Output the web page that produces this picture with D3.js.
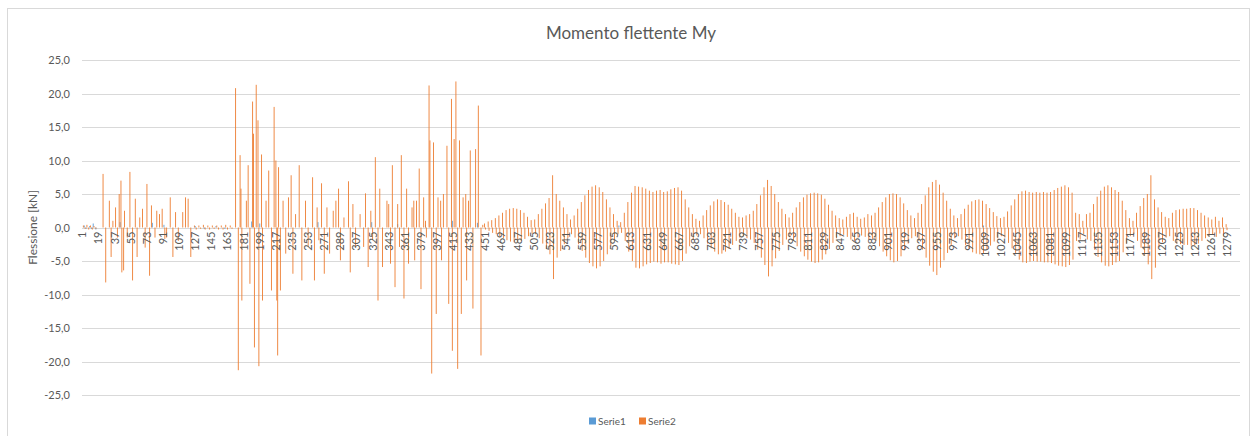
<!DOCTYPE html>
<html>
<head>
<meta charset="utf-8">
<script src="https://cdn.jsdelivr.net/npm/d3@7"></script>
<style>
  body { margin: 0; background: #fff; }
  svg { display: block; font-family: Lato, "Open Sans", sans-serif; }
</style>
</head>
<body>
<div id="chart"></div>
<script>
// categories 1..1293 (Excel row numbers)
const nCategories = 1293;
const categories = d3.range(1, nCategories + 1);

const tickLabels = [1, 19, 37, 55, 73, 91, 109, 127, 145, 163, 181, 199, 217, 235, 253, 271, 289, 307,
  325, 343, 361, 379, 397, 415, 433, 451, 469, 487, 505, 523, 541, 559, 577, 595, 613, 631, 649, 667,
  685, 703, 721, 739, 757, 775, 793, 811, 829, 847, 865, 883, 901, 919, 937, 955, 973, 991, 1009, 1027,
  1045, 1063, 1081, 1099, 1117, 1135, 1153, 1171, 1189, 1207, 1225, 1243, 1261, 1279];

const yTicks = [-25, -20, -15, -10, -5, 0, 5, 10, 15, 20, 25];

// Serie2, first part: [category, value]
const serie2Spikes = [
  [2, 0.3], [4, -0.2], [6, 0.4], [8, -0.3], [10, 0.3], [12, -0.3], [14, 0.2], [16, -0.2],
  [24, 8.0], [27, -8.2], [31, 4.0], [33, -4.4], [35, 1.0], [38, 3.0], [40, -1.5], [42, 5.0],
  [44, 7.0], [45, -6.7], [47, -6.4], [48, 2.5], [51, -1.5], [54, 8.3], [57, -7.9], [60, 4.3],
  [62, -4.4], [65, 1.5], [68, 2.8], [71, -3.0], [73, 6.5], [76, -7.2], [78, 3.3], [82, -1.5],
  [84, 2.5], [87, 2.0], [90, 2.8], [93, -1.7], [95, -1.5], [99, 4.5], [102, -4.4], [105, 2.3],
  [108, -2.0], [113, 2.3], [116, 4.5], [119, 4.3], [122, -4.4],
  [126, 0.3], [128, -0.3], [131, 0.3], [133, -0.2], [136, 0.4], [138, -0.3], [141, 0.3], [143, -0.3],
  [146, 0.3], [148, -0.2], [151, 0.3], [153, -0.3], [156, 0.3], [158, -0.3], [161, 0.4], [163, -0.3],
  [166, 0.3], [168, -0.2],
  [172, 20.8], [175, -21.3], [177, 10.8], [178, 5.8], [179, -10.9], [184, 4.0], [186, 9.3], [188, -8.4],
  [191, 18.8], [192, 14.0], [193, -17.9], [195, 21.3], [197, 16.0], [198, -20.7], [201, 10.9], [202, -10.9],
  [206, 4.0], [209, 8.5], [212, -9.4], [215, 18.0], [217, 10.0], [218, -10.9], [219, -19.1], [220, 9.0],
  [222, -9.4], [225, 4.0], [228, -3.9], [231, 4.5], [234, 7.8], [236, -6.9], [239, 2.0], [243, 9.3],
  [246, -7.9], [250, 4.0], [253, -2.9], [258, 7.5], [260, -7.9], [263, 3.0], [265, -1.9], [268, 6.6],
  [271, -6.9], [274, 3.0], [277, -3.9], [281, 2.5], [284, 4.0], [287, 5.8], [289, -4.9], [293, 1.5],
  [298, 6.9], [300, -6.7], [303, 3.5], [306, -2.9], [311, 2.0], [315, -2.9], [317, 5.1], [320, -5.9],
  [323, 2.5], [325, -1.9], [328, 10.5], [331, -10.9], [333, 5.8], [336, -5.9], [341, 4.0], [343, 3.5],
  [345, -5.4], [347, 9.3], [350, -8.9], [353, 3.5], [355, -2.9], [357, 10.8], [360, -10.6], [363, 5.8],
  [365, -5.4], [369, 3.0], [371, 4.0], [372, -4.9], [374, 4.0], [377, 8.8], [379, -9.2], [382, 4.5],
  [384, 1.0], [385, -1.5], [388, 21.2], [389, 13.0], [391, -21.8], [393, 12.7], [396, -12.9], [398, 4.5],
  [401, 4.0], [402, -4.9], [404, 5.0], [408, 12.2], [410, -11.4], [413, 19.2], [414, -18.4], [416, 13.2],
  [418, 21.8], [420, -21.1], [422, 13.0], [424, -12.9], [426, 4.5], [429, 5.0], [430, -7.9], [432, 4.0],
  [434, 11.5], [437, -12.1], [440, 11.7], [443, 18.2], [446, -19.1], [448, 0.4]
];

// Serie2, oscillating part: one positive and one negative bar every 4 categories from category 450
const serie2WaveStart = 450;
const serie2WaveTop = [
  0.6, 0.9, 1.1, 1.4, 1.8, 2.2, 2.6, 2.8, 2.9, 2.8, 2.6, 2.2, 1.6, 1.1, 1.2, 2.0, 2.8, 3.6, 4.4, 7.8,
  5.0, 4.0, 3.0, 2.0, 1.2, 1.8, 2.8, 3.8, 4.8, 5.6, 6.1, 6.3, 6.0, 5.3, 4.2, 3.0, 2.0, 1.0, 0.8, 2.2,
  3.8, 5.2, 6.2, 6.1, 6.0, 5.8, 5.5, 5.3, 5.5, 5.6, 5.3, 5.4, 5.7, 5.9, 6.0, 5.5, 4.2, 3.0, 2.0, 1.3,
  1.0, 1.8, 2.6, 3.3, 3.9, 4.2, 4.1, 3.8, 3.4, 2.8, 2.2, 1.6, 1.5, 1.8, 2.0, 2.5, 3.5, 4.8, 6.0, 7.1,
  6.2, 5.0, 3.8, 2.8, 2.0, 1.5, 2.2, 3.0, 3.8, 4.5, 4.9, 5.1, 5.2, 5.1, 4.9, 4.3, 3.4, 2.5, 1.8, 1.4,
  1.2, 1.6, 2.0, 2.2, 1.6, 1.3, 1.5, 2.0, 1.8, 2.2, 3.0, 3.8, 4.5, 5.0, 5.1, 5.0, 4.5, 3.6, 2.6, 1.8,
  1.4, 2.2, 3.5, 4.8, 6.0, 6.8, 7.1, 6.4, 5.2, 4.0, 2.8, 1.8, 1.4, 2.0, 2.8, 3.4, 3.9, 4.1, 4.2, 4.0,
  3.5, 2.9, 2.3, 1.7, 1.4, 1.6, 2.4, 3.3, 4.2, 5.0, 5.4, 5.5, 5.3, 5.2, 5.3, 5.2, 5.3, 5.2, 5.3, 5.6,
  5.9, 6.1, 6.3, 6.0, 5.2, 2.2, 2.0, 1.0, 2.0, 2.2, 3.5, 4.6, 5.5, 6.1, 6.3, 6.0, 5.6, 5.3, 4.0, 2.6,
  1.4, 1.0, 2.2, 3.2, 4.4, 5.0, 7.8, 4.2, 3.0, 2.3, 1.6, 1.4, 2.2, 2.6, 2.7, 2.8, 2.8, 2.9, 2.9, 2.6,
  2.2, 1.8, 1.5, 1.2, 1.6, 1.0, 1.5, 0.5
];
const serie2WaveBottom = [
  -0.3, -0.5, -0.8, -1.0, -1.3, -1.6, -1.9, -2.1, -2.2, -2.2, -2.0, -1.7, -1.3, -0.9, -1.0, -1.6, -2.4, -3.2, -4.0, -7.7,
  -4.5, -3.5, -2.5, -1.6, -1.0, -1.5, -2.5, -3.5, -4.5, -5.3, -5.8, -6.1, -5.8, -5.0, -4.0, -2.8, -1.8, -1.0, -0.8, -2.0,
  -3.6, -5.0, -6.0, -6.1, -5.8, -5.5, -5.3, -5.1, -5.2, -5.4, -5.2, -5.2, -5.4, -5.5, -5.6, -5.0, -3.9, -2.8, -1.8, -1.2,
  -1.0, -1.6, -2.4, -3.1, -3.6, -4.0, -3.9, -3.6, -3.2, -2.6, -2.0, -1.5, -1.3, -1.6, -1.8, -2.3, -3.3, -4.5, -5.6, -7.3,
  -5.8, -4.6, -3.5, -2.6, -1.8, -1.4, -2.0, -2.8, -3.6, -4.3, -4.8, -5.1, -5.3, -5.2, -4.8, -4.0, -3.2, -2.3, -1.6, -1.3,
  -1.1, -1.4, -1.8, -2.0, -1.5, -1.2, -1.4, -1.8, -1.7, -2.0, -2.8, -3.6, -4.3, -4.9, -5.2, -5.0, -4.3, -3.4, -2.4, -1.6,
  -1.3, -2.0, -3.3, -4.5, -5.7, -6.6, -7.1, -6.0, -4.9, -3.8, -2.6, -1.6, -1.3, -1.8, -2.6, -3.2, -3.7, -3.9, -4.0, -3.8,
  -3.3, -2.7, -2.1, -1.6, -1.3, -1.5, -2.3, -3.1, -4.0, -4.8, -5.2, -5.3, -5.1, -5.0, -5.1, -5.1, -5.2, -5.2, -5.3, -5.5,
  -5.7, -5.8, -5.9, -5.6, -4.8, -2.0, -1.8, -1.0, -1.8, -2.0, -3.3, -4.4, -5.2, -5.7, -5.8, -5.6, -5.2, -5.0, -3.7, -2.4,
  -1.3, -1.0, -2.0, -3.0, -4.2, -5.5, -7.7, -6.0, -3.0, -2.2, -1.5, -1.3, -2.0, -2.4, -2.5, -2.6, -2.6, -2.7, -2.7, -2.4,
  -2.0, -1.6, -1.3, -1.1, -1.4, -0.9, -1.3, -0.4
];

// Serie1 is almost flat: [category, value]
const serie1Points = [
  [3, 0.3], [5, -0.2], [9, 0.2], [11, -0.2], [13, 0.6], [16, -0.3], [43, 0.8], [79, 0.7], [92, 0.4],
  [127, 0.2], [137, -0.2], [150, 0.2], [160, -0.2], [190, 0.9], [199, 0.6], [264, 0.8], [324, 0.8],
  [353, 0.5], [384, 0.4], [414, 1.0], [442, 0.7], [600, 0.3], [1007, 0.3]
];

const serie2 = categories.map(() => 0);
serie2Spikes.forEach(([c, v]) => { serie2[c - 1] = v; });
serie2WaveTop.forEach((v, i) => { serie2[serie2WaveStart - 1 + i * 4] = v; });
serie2WaveBottom.forEach((v, i) => { serie2[serie2WaveStart + i * 4] = v; });
const serie1 = categories.map(() => 0);
serie1Points.forEach(([c, v]) => { serie1[c - 1] = v; });

const series = [
  { name: "Serie1", color: "#5b9bd5", values: serie1 },
  { name: "Serie2", color: "#ed7d31", values: serie2 }
];

const W = 1252, H = 436;
const margin = { left: 82, right: 12, top: 60, bottom: 41 };

const svg = d3.select("#chart").append("svg")
  .attr("width", W)
  .attr("height", H);

svg.append("rect")
  .attr("x", 7.5).attr("y", 8.5)
  .attr("width", 1242).attr("height", 440)
  .attr("fill", "#fff")
  .attr("stroke", "#d9d9d9");

svg.append("text")
  .attr("x", 631).attr("y", 39)
  .attr("text-anchor", "middle")
  .attr("font-size", 17)
  .attr("fill", "#595959")
  .text("Momento flettente My");

const x = d3.scaleBand()
  .domain(categories)
  .range([margin.left, W - margin.right])
  .padding(0);

const y = d3.scaleLinear()
  .domain([-25, 25])
  .range([H - margin.bottom, margin.top]);

const locale = d3.formatLocale({ decimal: ",", thousands: ".", grouping: [3], currency: ["", "€"], minus: "-" });
const fmt = locale.format(".1f");

// gridlines
svg.append("g")
  .selectAll("line")
  .data(yTicks)
  .join("line")
  .attr("x1", margin.left)
  .attr("x2", W - margin.right)
  .attr("y1", d => Math.round(y(d)) + 0.5)
  .attr("y2", d => Math.round(y(d)) + 0.5)
  .attr("stroke", "#d9d9d9")
  .attr("stroke-width", 1);

// y axis labels
const yAxis = svg.append("g")
  .attr("transform", `translate(${margin.left - 6},0)`)
  .call(d3.axisLeft(y).tickValues(yTicks).tickFormat(fmt).tickSize(0).tickPadding(6));
yAxis.select(".domain").remove();
yAxis.selectAll("text")
  .attr("font-family", "Lato, 'Open Sans', sans-serif")
  .attr("font-size", 11)
  .attr("fill", "#595959");

svg.append("text")
  .attr("transform", `translate(37,${y(0)}) rotate(-90)`)
  .attr("text-anchor", "middle")
  .attr("font-size", 12)
  .attr("fill", "#595959")
  .text("Flessione [kN]");

// bars
const barW = x.bandwidth();
series.forEach(s => {
  svg.append("g")
    .selectAll("rect")
    .data(categories.filter((c, i) => s.values[i] !== 0))
    .join("rect")
    .attr("x", c => x(c))
    .attr("width", barW)
    .attr("y", c => y(Math.max(0, s.values[c - 1])))
    .attr("height", c => Math.abs(y(s.values[c - 1]) - y(0)))
    .attr("fill", s.color);
});

// x axis labels, rotated
const xAxis = svg.append("g")
  .attr("transform", `translate(0,${y(0)})`)
  .call(d3.axisBottom(x).tickValues(tickLabels).tickSize(0).tickPadding(0));
xAxis.select(".domain").remove();
xAxis.selectAll("text")
  .attr("font-family", "Lato, 'Open Sans', sans-serif")
  .attr("font-size", 11)
  .attr("fill", "#595959")
  .attr("text-anchor", "end")
  .attr("dy", "0.35em")
  .attr("transform", "translate(0,4) rotate(-90)")
  .attr("x", 0)
  .attr("y", 0);

// legend
const legend = svg.append("g").attr("transform", "translate(589,421)");
series.forEach((s, i) => {
  const g = legend.append("g").attr("transform", `translate(${i * 50},0)`);
  g.append("rect").attr("x", 0).attr("y", -3.5).attr("width", 7).attr("height", 7).attr("fill", s.color);
  g.append("text").attr("x", 9).attr("y", 0).attr("dy", "0.35em")
    .attr("font-size", 10).attr("fill", "#595959").text(s.name);
});
</script>
</body>
</html>
